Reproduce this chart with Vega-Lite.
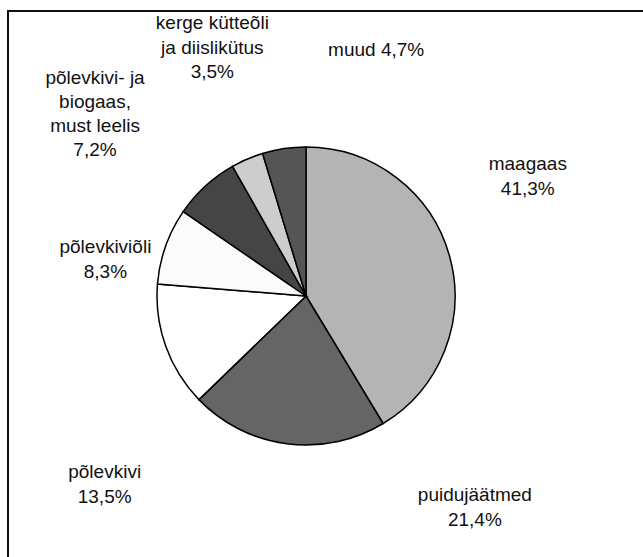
{
  "$schema": "https://vega.github.io/schema/vega-lite/v6.json",
  "autosize": "none",
  "padding": {"left": 8, "top": 11, "right": 0, "bottom": 0},
  "width": 635,
  "height": 546,
  "background": "white",
  "view": {"stroke": "#111111", "strokeWidth": 2, "strokeDash": [635, 1181, 546]},
  "data": {
    "values": [
      {"source": "maagaas", "share": 41.3, "order": 1, "label": "maagaas\n41,3%"},
      {"source": "puidujäätmed", "share": 21.4, "order": 2, "label": "puidujäätmed\n21,4%"},
      {"source": "põlevkivi", "share": 13.5, "order": 3, "label": "põlevkivi\n13,5%"},
      {"source": "põlevkiviõli", "share": 8.3, "order": 4, "label": "põlevkiviõli\n8,3%"},
      {"source": "põlevkivi- ja biogaas, must leelis", "share": 7.2, "order": 5, "label": "põlevkivi- ja\nbiogaas,\nmust leelis\n7,2%"},
      {"source": "kerge kütteõli ja diislikütus", "share": 3.5, "order": 6, "label": "kerge kütteõli\nja diislikütus\n3,5%"},
      {"source": "muud", "share": 4.7, "order": 7, "label": "muud 4,7%"}
    ]
  },
  "encoding": {
    "theta": {"field": "share", "type": "quantitative", "stack": true},
    "order": {"field": "order", "type": "quantitative", "sort": "ascending"}
  },
  "layer": [
    {
      "mark": {"type": "arc", "radius": 149, "stroke": "#000000", "strokeWidth": 1.5, "xOffset": -19.5, "yOffset": 12},
      "encoding": {
        "color": {
          "field": "source",
          "type": "nominal",
          "scale": {
            "domain": ["maagaas", "puidujäätmed", "põlevkivi", "põlevkiviõli", "põlevkivi- ja biogaas, must leelis", "kerge kütteõli ja diislikütus", "muud"],
            "range": ["#b4b4b4", "#656565", "#ffffff", "#fbfbfb", "#454545", "#cdcdcd", "#555555"]
          },
          "legend": null
        }
      }
    },
    {
      "mark": {"type": "text", "radius": 250, "xOffset": -19.5, "yOffset": 12, "dx": -19, "dy": -65, "font": "Liberation Sans", "fontSize": 19, "lineHeight": 25, "lineBreak": "\n", "align": "center", "baseline": "middle", "fill": "#111111"},
      "encoding": {"text": {"condition": {"test": "datum.source === 'maagaas'", "field": "label", "type": "nominal"}, "value": ""}}
    },
    {
      "mark": {"type": "text", "radius": 250, "xOffset": -19.5, "yOffset": 12, "dx": 201, "dy": -49, "font": "Liberation Sans", "fontSize": 19, "lineHeight": 25, "lineBreak": "\n", "align": "center", "baseline": "middle", "fill": "#111111"},
      "encoding": {"text": {"condition": {"test": "datum.source === 'puidujäätmed'", "field": "label", "type": "nominal"}, "value": ""}}
    },
    {
      "mark": {"type": "text", "radius": 250, "xOffset": -19.5, "yOffset": 12, "dx": 34, "dy": 92, "font": "Liberation Sans", "fontSize": 19, "lineHeight": 25, "lineBreak": "\n", "align": "center", "baseline": "middle", "fill": "#111111"},
      "encoding": {"text": {"condition": {"test": "datum.source === 'põlevkivi'", "field": "label", "type": "nominal"}, "value": ""}}
    },
    {
      "mark": {"type": "text", "radius": 250, "xOffset": -19.5, "yOffset": 12, "dx": 35, "dy": 35, "font": "Liberation Sans", "fontSize": 19, "lineHeight": 25, "lineBreak": "\n", "align": "center", "baseline": "middle", "fill": "#111111"},
      "encoding": {"text": {"condition": {"test": "datum.source === 'põlevkiviõli'", "field": "label", "type": "nominal"}, "value": ""}}
    },
    {
      "mark": {"type": "text", "radius": 250, "xOffset": -19.5, "yOffset": 12, "dx": -42, "dy": -34, "font": "Liberation Sans", "fontSize": 19, "lineHeight": 24, "lineBreak": "\n", "align": "center", "baseline": "middle", "fill": "#111111"},
      "encoding": {"text": {"condition": {"test": "datum.source === 'põlevkivi- ja biogaas, must leelis'", "field": "label", "type": "nominal"}, "value": ""}}
    },
    {
      "mark": {"type": "text", "radius": 250, "xOffset": -19.5, "yOffset": 12, "dx": 5, "dy": -43, "font": "Liberation Sans", "fontSize": 19, "lineHeight": 24.5, "lineBreak": "\n", "align": "center", "baseline": "middle", "fill": "#111111"},
      "encoding": {"text": {"condition": {"test": "datum.source === 'kerge kütteõli ja diislikütus'", "field": "label", "type": "nominal"}, "value": ""}}
    },
    {
      "mark": {"type": "text", "radius": 250, "xOffset": -19.5, "yOffset": 12, "dx": 107, "dy": 1, "font": "Liberation Sans", "fontSize": 19, "lineHeight": 25, "lineBreak": "\n", "align": "center", "baseline": "middle", "fill": "#111111"},
      "encoding": {"text": {"condition": {"test": "datum.source === 'muud'", "field": "label", "type": "nominal"}, "value": ""}}
    }
  ]
}
